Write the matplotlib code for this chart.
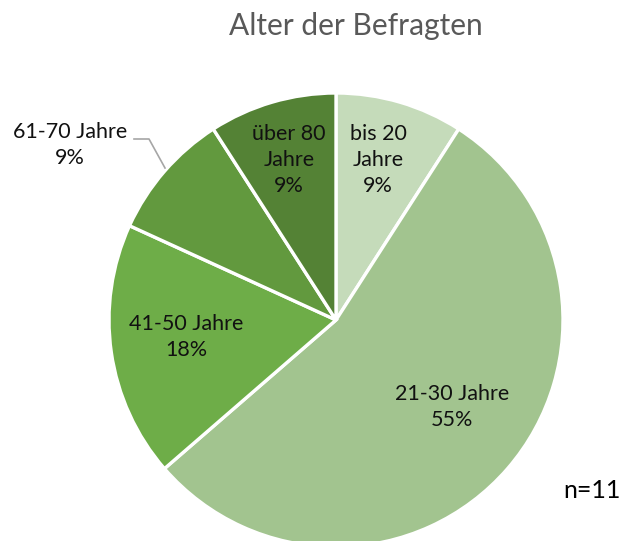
import matplotlib.pyplot as plt

# --- Daten ---
labels = ['bis 20\nJahre', '21-30 Jahre', '41-50 Jahre', '61-70 Jahre', 'über 80\nJahre']
counts = [1, 6, 2, 1, 1]
colors = ['#C5DBBA', '#A2C48F', '#6EAD48', '#62993E', '#548235']
n_total = sum(counts)

W, H = 626, 541
cx, cy, r = 336, 320, 227


def to_data(px, py):
    return (px - cx) / r, (cy - py) / r


plt.rcParams['font.family'] = ['Lato', 'DejaVu Sans']

fig = plt.figure(figsize=(W / 100, H / 100), dpi=100)
ax = fig.add_axes([(cx - r) / W, (H - cy - r) / H, 2 * r / W, 2 * r / H])

wedges, _ = ax.pie(counts, colors=colors, startangle=90, counterclock=False,
                   radius=1, center=(0, 0),
                   wedgeprops=dict(edgecolor='white', linewidth=2.4))
for w in wedges:
    w.set_clip_on(False)

ax.set_xlim(-1, 1)
ax.set_ylim(-1, 1)
ax.set_aspect('equal')
ax.axis('off')

pct = [f'{round(c / n_total * 100)}%' for c in counts]

# Beschriftungen (Position in Pixeln)
label_pos = [(378, 160), (452, 407), (186, 337), (70, 145), (289, 160)]
for lab, p, (px, py) in zip(labels, pct, label_pos):
    x, y = to_data(px, py)
    ax.text(x, y, f'{lab}\n{p}', ha='center', va='center', fontsize=15.5,
            color='#111111', linespacing=1.35, clip_on=False)

# Führungslinie für 61-70 Jahre
lx, ly = zip(to_data(134, 139), to_data(149, 139), to_data(165, 168))
ax.plot(lx, ly, color='#A6A6A6', lw=1.2, clip_on=False)

fig.text(356 / W, 1 - 26 / H, 'Alter der Befragten', ha='center', va='center',
         fontsize=21.5, color='#595959')
fig.text(592 / W, 1 - 490 / H, f'n={n_total}', ha='center', va='center',
         fontsize=18, color='black')

fig.savefig('out.png', dpi=100)
